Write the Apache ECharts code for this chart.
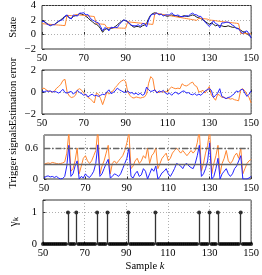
<!DOCTYPE html>
<html><head><meta charset="utf-8">
<script src="https://cdn.jsdelivr.net/npm/echarts@6/dist/echarts.min.js"></script>
<style>html,body{margin:0;padding:0;background:#fff}#c{width:262px;height:275px}</style>
</head><body><div id="c"></div>
<script>
const samples = Array.from({length:101},(_,i)=>50+i);
const xTicks = [50,70,90,110,130,150];
const stateTrue = [1.9,1.8,1.6,1.4,1.3,1.35,1.4,1.6,1.8,2.0,
2.3,2.5,2.6,2.3,2.2,2.5,2.6,2.7,2.9,2.8,
2.7,2.5,2.3,2.0,1.8,1.5,1.4,1.2,0.8,0.3,
0.7,0.8,0.7,0.85,0.9,1.1,1.3,1.6,1.8,2.0,
1.9,1.8,1.4,1.2,1.0,1.1,1.1,1.0,1.2,1.3,
1.5,2.2,2.7,2.9,3.0,2.9,2.8,2.8,2.7,2.6,
2.5,2.6,2.7,2.6,2.6,2.5,2.4,2.5,2.6,2.5,
2.5,2.6,2.7,2.6,2.4,2.3,2.2,2.0,1.8,1.6,
1.4,1.6,1.4,1.2,1.3,1.2,1.2,1.1,1.1,1.2,
1.1,1.0,1.0,0.9,0.8,0.6,0.4,0.3,0.1,-0.1,
-0.4];
const stateLocal = [1.8,1.8,1.5,1.35,1.2,1.35,1.35,1.6,1.9,1.95,
2.05,2.55,2.7,2.3,2.15,2.7,2.6,2.55,2.95,2.95,
3.0,2.7,2.75,2.3,2.0,1.85,1.7,1.6,1.1,0.5,
0.95,0.8,0.5,1.0,0.95,1.0,0.95,1.4,1.7,2.0,
1.95,1.7,1.5,1.25,1.2,1.2,1.35,1.1,1.5,1.5,
1.05,2.0,2.65,2.8,2.8,3.0,2.7,2.8,2.55,2.7,
2.7,2.7,3.0,2.7,2.6,2.7,2.5,2.45,2.5,2.6,
2.55,2.8,2.95,2.75,2.7,2.5,2.5,2.1,1.7,1.4,
1.1,1.45,1.9,1.5,1.4,0.9,1.6,1.6,1.7,1.7,
1.55,1.3,1.15,0.8,0.8,0.4,0.15,0.4,0.5,0.1,
-0.5];
const stateRemote = [1.50,1.47,1.45,1.42,1.40,1.37,1.35,1.32,1.30,1.28,
1.25,1.23,2.65,2.62,2.60,2.57,2.75,2.72,2.69,2.66,
2.63,2.60,2.57,2.54,2.51,2.48,1.50,1.47,1.45,1.42,
1.40,0.95,0.94,0.93,0.92,0.91,0.90,0.89,0.88,0.87,
0.86,1.75,1.72,1.69,1.66,1.63,1.60,1.57,1.54,1.51,
1.48,1.45,1.42,1.39,2.95,2.90,2.85,2.80,2.75,2.70,
2.65,2.60,2.55,2.50,2.45,2.40,2.35,2.30,2.25,2.20,
2.15,2.10,2.05,2.00,1.95,2.25,2.22,2.19,2.16,2.13,
2.00,1.97,1.94,1.91,1.85,1.82,1.78,1.75,1.72,1.68,
1.65,1.62,1.58,1.55,1.50,0.15,0.14,0.13,0.12,0.11,
0.10];
const errLocal = [0.1,0,0.1,0.05,0.1,0,0.05,0,-0.1,0.05,
0.25,-0.05,-0.1,0,0.05,-0.2,0,0.15,-0.05,-0.15,
-0.3,-0.2,-0.45,-0.3,-0.2,-0.35,-0.3,-0.4,-0.3,-0.2,
-0.25,0,0.2,-0.15,-0.05,0.1,0.35,0.2,0.1,0,
-0.05,0.1,-0.1,-0.05,-0.2,-0.1,-0.25,-0.1,-0.3,-0.2,
0.45,0.2,0.05,0.1,0.2,-0.1,0.1,0,0.15,-0.1,
-0.2,-0.1,-0.3,-0.1,0,-0.2,-0.1,0.05,0.1,-0.1,
-0.05,-0.2,-0.25,-0.15,-0.3,-0.2,-0.3,-0.1,0.1,0.2,
0.3,0.15,-0.5,-0.3,-0.1,0.3,-0.4,-0.5,-0.6,-0.5,
-0.45,-0.3,-0.15,0.1,0,0.2,0.25,-0.1,-0.4,-0.2,
0.1];
const errRemote = [0.3,0.35,0.2,0.1,0.05,0,0.1,0.35,0.5,0.7,
1.05,1.15,0,-0.35,-0.5,-0.45,-0.3,0.2,0.3,0.15,
-0.1,-0.3,-0.5,-0.6,-0.8,-1.0,-0.1,-0.2,-0.6,-1.15,
-0.6,0,-0.2,0,0.1,0.4,0.6,0.85,1.0,1.1,
0.95,0,-0.3,-0.5,-0.55,-0.45,-0.5,-0.55,-0.5,-0.45,
-0.2,0.8,1.4,1.2,0.1,0,-0.05,0.05,0,0.05,
0,0.3,0.45,0.35,0.3,0.35,0.3,0.75,0.6,0.55,
0.65,0.8,0.9,0.6,0.5,0,0.05,0.15,-0.1,0.2,
0.5,-0.3,-0.5,-0.75,-0.2,-0.3,-0.5,-0.45,-0.6,-0.55,
-0.65,-0.6,-0.7,-0.75,-0.8,0.2,0.3,0.1,-0.2,-0.5,
-1.0];
const trigRemote = [0.28,0.30,0.31,0.30,0.32,0.31,0.30,0.29,0.30,0.31,
0.33,0.5,0.9,0.15,0.2,0.35,0.6,0.1,0.25,0.4,
0.45,0.35,0.3,0.35,0.45,0.55,0.95,0.1,0.25,0.35,
0.5,0.65,0.1,0.3,0.35,0.3,0.35,0.4,0.45,0.55,
0.7,0.9,0.2,0.25,0.35,0.4,0.3,0.35,0.45,0.4,
0.6,0.3,0.45,0.5,0.6,0.2,0.3,0.4,0.45,0.5,
0.35,0.4,0.5,0.55,0.6,0.55,0.5,0.55,0.5,0.45,
0.5,0.55,0.5,0.55,0.7,0.95,0.15,0.3,0.5,0.65,
0.95,0.1,0.3,0.45,0.65,0.1,0.3,0.4,0.55,0.35,
0.3,0.35,0.45,0.5,0.4,0.6,0.1,0.2,0.3,0.35,
0.38];
const trigLocal = [0.02,0.05,0.06,0.04,0.05,0.03,0.05,0.02,0,0.01,
0.05,0.25,0.65,0.05,0.1,0.25,0.35,0,0.05,0.02,
0.1,0.05,0.03,0.08,0.15,0.3,0.66,0.05,0.1,0.2,
0.3,0.38,0.02,0.05,0.1,0.08,0.05,0.1,0.2,0.3,
0.4,0.6,0.05,0.02,0.1,0.15,0.05,0.08,0.2,0.15,
0,0.1,0.2,0.15,0.25,0,0.05,0.12,0.15,0.2,
0.1,0.05,0.12,0.2,0.3,0.28,0.25,0.2,0.28,0.3,
0.25,0.22,0.2,0.3,0.45,0.65,0.05,0.1,0.2,0.35,
0.7,0,0.05,0.2,0.4,0,0.1,0.15,0.2,0.1,
0.05,0.1,0.2,0.25,0.35,0.45,0,0,0,0.02,
0.05];
const thresholds = [0.28, 0.6];
const triggers = [62,66,76,81,91,104,125,130,134,145];
const gamma = samples.map(k => triggers.includes(k) ? 1 : 0);

const FONT = 'Liberation Serif';
const BLUE = '#2323ff', ORANGE = '#ff8530', BLACK = '#1a1a1a';
const tops = [5, 70, 135, 200];
const pair = arr => samples.map((k,i)=>[k, arr[i]]);
const minus = v => v < 0 ? '\u2212' + Math.abs(v) : String(v);

const yCfg = [
  {min:-2,max:4,interval:2,name:'State'},
  {min:-2,max:2,interval:2,name:'Estimation error'},
  {min:0,max:0.85,interval:0.6,name:'Trigger signals'},
  {min:0,max:1.4,interval:1,name:'\u03b3\u2096'}
];

const grid = tops.map(t => ({left:36, right:8, top:t, height:44, show:true, borderColor:'#333', borderWidth:1, backgroundColor:'transparent'}));
const xAxis = tops.map((t,i) => ({
  type:'value', gridIndex:i, min:50, max:150, interval:20,
  axisLine:{show:false}, axisTick:{show:true, inside:true, length:2.5, lineStyle:{color:'#333'}},
  axisLabel:{fontFamily:FONT, fontSize:10.5, color:'#000', margin:4},
  splitLine:{show:true, lineStyle:{color:'#9a9a9a', type:[1,2], width:0.8}}
}));

const yAxis = yCfg.map((c,i) => ({
  type:'value', gridIndex:i, min:c.min, max:c.max, interval:c.interval, position:'left',
  axisLine:{show:false, onZero:false}, axisTick:{show:true, inside:true, length:2.5, lineStyle:{color:'#333'}},
  axisLabel:{show: i<3, fontFamily:FONT, fontSize:10.5, color:'#000', margin:6, formatter:minus, showMaxLabel: (i<2), hideOverlap:false},
  splitLine:{show:true, lineStyle:{color:'#9a9a9a', type:[1,2], width:0.8}},
  name:c.name, nameLocation:'middle', nameRotate:90, nameGap: i===2 ? 25 : 23, nameMoveOverlap:false,
  nameTextStyle:{fontFamily:FONT, fontSize: i===3 ? 11.5 : 10.5, color:'#000'}
}));
// label-only axis for the gamma panel (no name)
yAxis.push({type:'value', gridIndex:3, min:0, max:1.4, interval:1, position:'left', offset:0,
  axisLine:{show:false}, axisTick:{show:false}, splitLine:{show:false},
  axisLabel:{fontFamily:FONT, fontSize:10.5, color:'#000', margin:6, showMaxLabel:false}});

const title = {text:'{a|Sample }{b|k}', left:145, top:261, textAlign:'center', padding:0,
  textStyle:{fontWeight:'normal', rich:{a:{fontFamily:FONT,fontSize:10.5,fontWeight:'normal',color:'#000'}, b:{fontFamily:FONT,fontSize:10.5,fontWeight:'normal',fontStyle:'italic',color:'#000'}}}};

const line = (data, color, idx, w, z) => ({type:'line', xAxisIndex:idx, yAxisIndex:idx, data:pair(data), showSymbol:false, symbol:'none', lineStyle:{color, width:w}, z:z, animation:false, clip:true});

const series = [
  line(stateTrue, BLACK, 0, 1, 2),
  line(stateRemote, ORANGE, 0, 1, 3),
  line(stateLocal, BLUE, 0, 1, 4),
  line(errRemote, ORANGE, 1, 1, 3),
  line(errLocal, BLUE, 1, 1, 4),
  Object.assign(line(trigRemote, ORANGE, 2, 1, 3), {
    markLine:{silent:true, symbol:'none', animation:false, label:{show:false},
      data:[{yAxis:thresholds[0], lineStyle:{color:'#666', width:1.3, type:'solid'}},
            {yAxis:thresholds[1], lineStyle:{color:'#666', width:1.3, type:[6,2,1.5,2]}}]}}),
  line(trigLocal, BLUE, 2, 1, 4),
  {type:'scatter', xAxisIndex:3, yAxisIndex:3, data:pair(gamma), symbolSize:4, itemStyle:{color:'#000'}, animation:false, z:3, clip:false,
   markLine:{silent:true, symbol:'none', animation:false, label:{show:false}, lineStyle:{color:'#333', width:1.3, type:'solid'},
     data: triggers.map(k => [{coord:[k,0]},{coord:[k,1]}])}}
];

const chart = echarts.init(document.getElementById('c'), null, {renderer:'canvas'});
chart.setOption({animation:false, title, grid, xAxis, yAxis, series});
</script></body></html>
